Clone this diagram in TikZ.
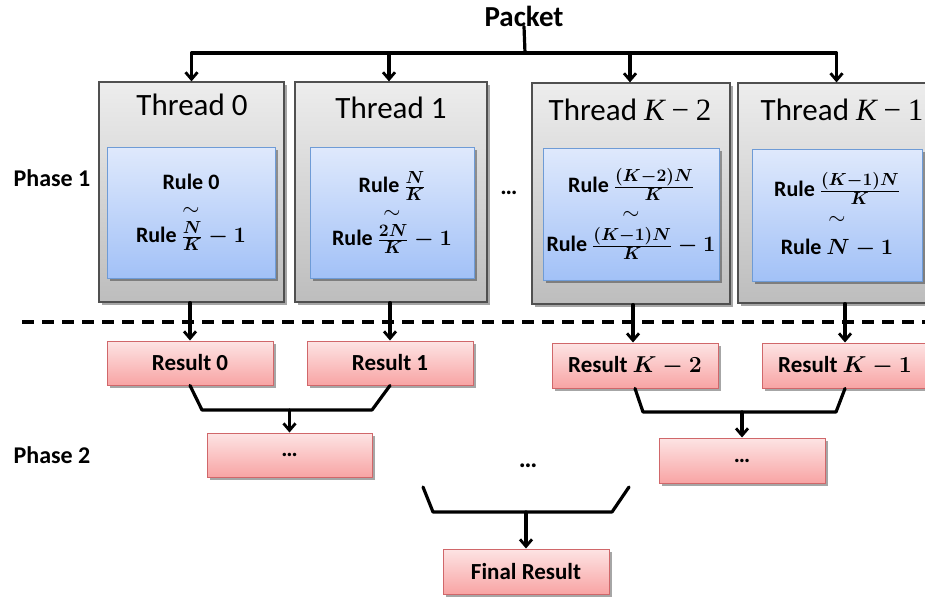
\RequirePackage{fix-cm}
\documentclass[tikz,border=0pt]{standalone}
\usepackage{amsmath}
\usepackage{fontspec}
\setmainfont{Carlito}
\newfontfamily\cambria{Liberation Serif}
\DeclareMathSizes{22}{22}{17.5}{13}
\DeclareMathSizes{23}{23}{17.5}{13}
\usetikzlibrary{arrows.meta,shadows}
\definecolor{gtop}{HTML}{EDEDED}
\definecolor{gbot}{HTML}{BDBDBD}
\definecolor{gbord}{HTML}{505050}
\definecolor{btop}{HTML}{DFE9FC}
\definecolor{bbot}{HTML}{A2C1F7}
\definecolor{bbord}{HTML}{6E9BD6}
\definecolor{ptop}{HTML}{FDE4E4}
\definecolor{pbot}{HTML}{F8A4A4}
\definecolor{pbord}{HTML}{D0676A}
\newcommand{\km}[1]{{\cambria\itshape K}\hspace{0.22em}{\cambria −}\hspace{0.22em}{\cambria #1}}
\begin{document}
\begin{tikzpicture}[x=1pt,y=-1pt,
  shad/.style={drop shadow={shadow xshift=2.5pt,shadow yshift=-2.5pt,opacity=0.35,fill=black}},
  threadbox/.style={draw=gbord,line width=1.2pt,top color=gtop,bottom color=gbot,shad,inner sep=0pt},
  rulebox/.style={draw=bbord,line width=1pt,top color=btop,bottom color=bbot,shad,inner sep=0pt,
    align=center,font=\fontsize{22}{30}\selectfont\bfseries\boldmath},
  resbox/.style={draw=pbord,line width=1pt,top color=ptop,bottom color=pbot,shad,inner sep=0pt,
    minimum width=166pt,minimum height=44pt,font=\fontsize{23}{27}\selectfont\bfseries\boldmath},
  ttl/.style={font=\fontsize{31}{36}\selectfont,inner sep=0pt},
  lbl/.style={font=\fontsize{24}{28}\selectfont\bfseries,inner sep=0pt},
  conn/.style={line width=3.2pt,line cap=round,line join=round},
  arr/.style={conn,-{Straight Barb[length=7pt,width=12pt,line width=2.8pt]}}
]
\useasboundingbox (0,0) rectangle (925,600);

% Packet
\node[lbl,font=\fontsize{29}{33}\selectfont\bfseries] (packet) at (524,16) {Packet};
\coordinate (split) at (525,53);

% Threads
\node[threadbox,minimum width=185pt,minimum height=220pt] (th0) at (191.5,192) {};
\node[threadbox,minimum width=192pt,minimum height=220pt] (th1) at (391,192) {};
\node[threadbox,minimum width=198pt,minimum height=221pt] (th2) at (631,193.5) {};
\node[threadbox,minimum width=197pt,minimum height=220pt] (th3) at (836.5,193) {};

\node[ttl] (t0) at (192,105) {Thread 0};
\node[ttl] (t1) at (391,108) {Thread 1};
\node[ttl] (t2) at (630,110) {Thread \km{2}};
\node[ttl] (t3) at (842,110) {Thread \km{1}};

\node[rulebox,minimum width=168pt,minimum height=131pt] (b0) at (191,212.5)
  {Rule 0\\[-4pt] {\mdseries\unboldmath$\sim$}\\[-3pt] Rule $\frac{N}{K}-1$};
\node[rulebox,minimum width=164pt,minimum height=131pt] (b1) at (392,212.5)
  {Rule $\frac{N}{K}$\\[-4pt] {\mdseries\unboldmath$\sim$}\\[-3pt] Rule $\frac{2N}{K}-1$};
\node[rulebox,minimum width=176pt,minimum height=132pt] (b2) at (631,214)
  {Rule $\frac{(K-2)N}{K}$\\[-3pt] {\mdseries\unboldmath$\sim$}\\[2pt] Rule $\frac{(K-1)N}{K}-1$};
\node[rulebox,minimum width=170pt,minimum height=132pt] (b3) at (837,215)
  {Rule $\frac{(K-1)N}{K}$\\[-2pt] {\mdseries\unboldmath$\sim$}\\[0pt] Rule $N-1$};

\node[lbl] (dots1) at (509,193) {…};
\node[lbl] (ph1) at (52,178) {Phase 1};
\node[lbl] (ph2) at (52,455) {Phase 2};

% packet arrows
\draw[conn] (packet.south) -- (split);
\draw[arr] (split) -| (th0.north);
\draw[arr] (split) -| ([xshift=-2pt]th1.north);
\draw[arr] (split) -| ([xshift=-1pt]th2.north);
\draw[arr] (split) -| (th3.north);

% dashed separator
\coordinate (dl) at (22,322);
\coordinate (dr) at (925,322);
\draw[line width=3.2pt,dash pattern=on 12pt off 8pt] (dl) -- (dr);

% results
\node[resbox] (r0) at (190,363) {Result 0};
\node[resbox] (r1) at (390,363) {Result 1};
\node[resbox,minimum height=45pt] (r2) at (635,365.5) {Result $K-2$};
\node[resbox,minimum height=45pt] (r3) at (845,365.5) {Result $K-1$};

\coordinate (th2b) at ([xshift=2pt]th2.south);
\draw[arr] (th0.south -| r0.north) -- (r0.north);
\draw[arr] (th1.south -| r1.north) -- (r1.north);
\draw[arr] (th2b) -- (r2.north -| th2b);
\draw[arr] (th3.south -| r3.north) -- (r3.north);

% phase 2 boxes
\node[resbox,minimum width=165pt] (p2a) at (289.5,455) {…};
\node[resbox,minimum height=45pt] (p2b) at (742,460.5) {…};
\node[resbox,minimum height=45pt] (fin) at (526,571.5) {Final Result};
\node[lbl,font=\fontsize{26}{30}\selectfont\bfseries] (dots2) at (528,466) {…};

% bracket 0/1
\coordinate (a1) at (202,410);
\coordinate (a2) at (372,410);
\draw[conn] (r0.south) -- (a1) -- (a2) -- (r1.south);
\draw[arr] (a1 -| p2a.north) -- (p2a.north);

% bracket K-2/K-1
\coordinate (c1) at (643,412);
\coordinate (c2) at (836,412);
\draw[conn] (r2.south) -- (c1) -- (c2) -- (r3.south);
\draw[arr] (c1 -| p2b.north) -- (p2b.north);

% final bracket
\coordinate (f0) at (423,487);
\coordinate (f1) at (433,512);
\coordinate (f2) at (612,512);
\coordinate (f3) at (629,487);
\draw[conn] (f0) -- (f1) -- (f2) -- (f3);
\draw[arr] (f1 -| fin.north) -- (fin.north);
\end{tikzpicture}
\end{document}
